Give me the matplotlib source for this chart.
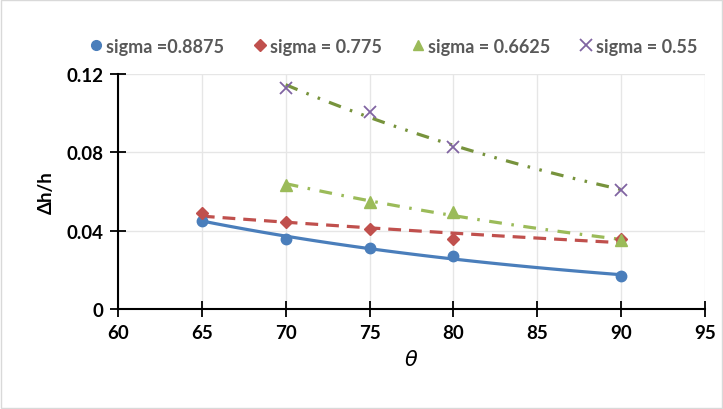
import numpy as np
import matplotlib
matplotlib.use("Agg")
import matplotlib.pyplot as plt
from matplotlib.lines import Line2D

plt.rcParams['font.family'] = ['Lato', 'DejaVu Sans']

theta_a = [65, 70, 75, 80, 90]
theta_b = [70, 75, 80, 90]
s8875 = [0.045, 0.036, 0.031, 0.027, 0.017]
s775 = [0.049, 0.0445, 0.041, 0.036, 0.0355]
s6625 = [0.0635, 0.0545, 0.0495, 0.035]
s55 = [0.113, 0.1005, 0.0825, 0.061]

labels = ['sigma =0.8875', 'sigma = 0.775', 'sigma = 0.6625', 'sigma = 0.55']
c_blue, c_red, c_green, c_purple, c_olive = '#4a7ebb', '#c0504d', '#9bbb59', '#8064a2', '#77933c'

fig = plt.figure(figsize=(7.23, 4.10), dpi=100)
ax = fig.add_axes([118/723, 100/410, 587/723, 235/410])

def expfit(x, y):
    x = np.asarray(x, float); y = np.asarray(y, float)
    b, a = np.polyfit(x, np.log(y), 1)
    xs = np.linspace(x.min(), x.max(), 100)
    return xs, np.exp(a + b * xs)

# trendlines
xs, ys = expfit(theta_a, s8875)
ax.plot(xs, ys, color=c_blue, lw=2.3, zorder=2)
xs, ys = expfit(theta_a, s775)
ax.plot(xs, ys, color=c_red, lw=2.3, dashes=(4, 2.5), zorder=2)
xs, ys = expfit(theta_b, s6625)
ax.plot(xs, ys, color=c_green, lw=2.3, dashes=(4, 3, 0.8, 3), zorder=2)
xs, ys = expfit(theta_b, s55)
ax.plot(xs, ys, color=c_olive, lw=2.3, dashes=(4, 3, 0.8, 3, 0.8, 3), zorder=2)

# markers
ax.plot(theta_a, s8875, 'o', color=c_blue, ms=7.5, ls='none', zorder=3)
ax.plot(theta_a, s775, 'D', color=c_red, ms=6.5, ls='none', zorder=3)
ax.plot(theta_b, s6625, '^', color=c_green, ms=8, ls='none', zorder=3)
ax.plot(theta_b, s55, 'x', color=c_purple, ms=9, mew=1.3, ls='none', zorder=3)

ax.set_xlim(60, 95)
ax.set_ylim(0, 0.12)
ax.set_xticks(range(60, 96, 5))
ax.set_yticks([0, 0.04, 0.08, 0.12])
ax.set_yticklabels(['0', '0.04', '0.08', '0.12'])
ax.grid(True, color='#e6e6e6', lw=1)
ax.set_axisbelow(True)
for s in ['top', 'right']:
    ax.spines[s].set_visible(False)
for s in ['left', 'bottom']:
    ax.spines[s].set_color('black')
    ax.spines[s].set_linewidth(1.5)
ax.tick_params(direction='inout', length=11, width=1.3, labelsize=13.5, pad=5)
for t in ax.get_xticklabels() + ax.get_yticklabels():
    t.set_fontweight('bold')

ax.set_xlabel(r'$\theta$', fontsize=15, labelpad=6)
ax.set_ylabel('Δh/h', fontsize=13.5, fontweight='bold', labelpad=8)

handles = [
    Line2D([], [], marker='o', color=c_blue, ls='none', ms=7),
    Line2D([], [], marker='D', color=c_red, ls='none', ms=6),
    Line2D([], [], marker='^', color=c_green, ls='none', ms=7),
    Line2D([], [], marker='x', color=c_purple, ls='none', ms=9, mew=1.3),
]
leg = fig.legend(handles, labels, loc='center', bbox_to_anchor=(392/723, 1 - 47/410), ncol=4,
                 frameon=False, handletextpad=0.05, columnspacing=1.5,
                 handlelength=1.0, prop={'weight': 'bold', 'size': 13})
for t in leg.get_texts():
    t.set_color('#595959')

fig.patches.append(plt.Rectangle((0.002, 0.002), 0.996, 0.996, transform=fig.transFigure,
                                 fill=False, edgecolor='#d9d9d9', lw=1))
fig.savefig('out.png', dpi=100)
